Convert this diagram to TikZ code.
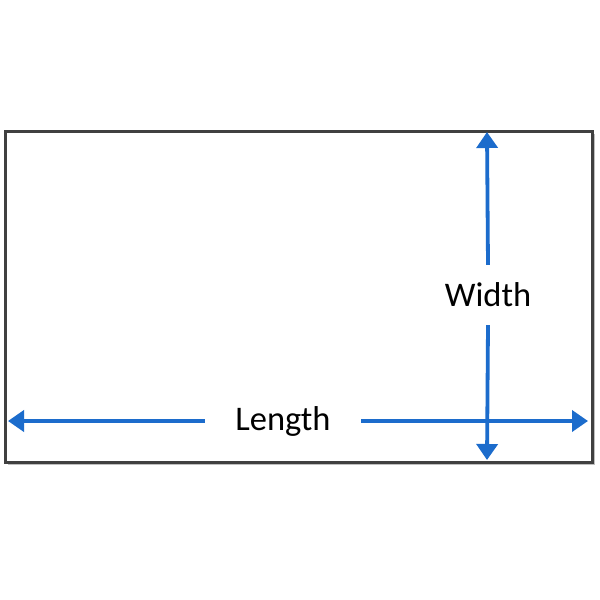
\documentclass[tikz,border=0pt]{standalone}
\usepackage{fontspec}
\setmainfont{Carlito}
\usepackage{xcolor}
\usetikzlibrary{arrows.meta,shadows}
\definecolor{dimblue}{RGB}{28,108,204}
\tikzset{dim/.style={draw=dimblue,line width=3.8pt,-{Triangle[length=16pt,width=21pt]}},
lbl/.style={inner sep=0pt,font=\fontsize{34.5}{40}\selectfont}}

\begin{document}
\begin{tikzpicture}[x=1pt,y=-1pt]
\useasboundingbox (0,0) rectangle (600,600);
\fill[white](0,0) rectangle (600,600);
% the box
\draw[line width=3pt,draw=black!75,fill=white,
drop shadow={shadow xshift=3pt,shadow yshift=-3pt,opacity=0.5}]
(5,131) rectangle (592,462);
\coordinate (lenL) at (8,421);
\coordinate (lenR) at (588,421);
\coordinate (widT) at (487,132);
\coordinate (widB) at (487,460);
\node[lbl,minimum width=156pt] (len) at (283,421){Length};
\node[lbl,minimum height=60pt] (wid) at (488,295){Width};
\draw[dim](len.west)--(lenL);
\draw[dim](len.east)--(lenR);
\draw[dim](wid.north)--(widT);
\draw[dim](wid.south)--(widB);
\end{tikzpicture}
\end{document}
